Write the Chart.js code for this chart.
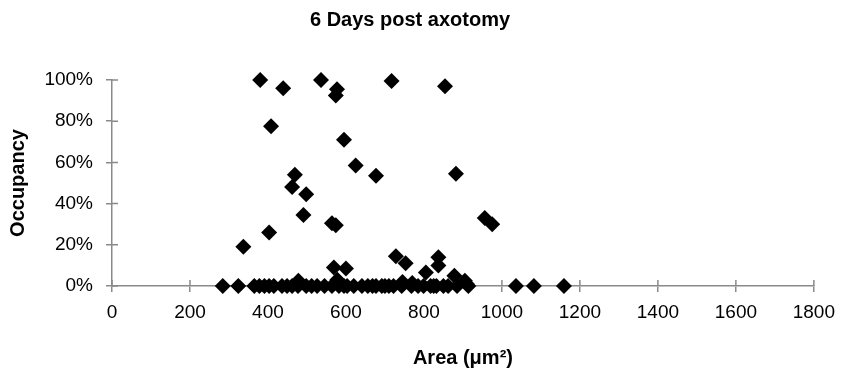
<!DOCTYPE html>
<html>
<head>
<meta charset="utf-8">
<script src="https://cdn.jsdelivr.net/npm/chart.js@4/dist/chart.umd.min.js"></script>
<style>
  html, body { margin: 0; padding: 0; background: #fff; }
  #wrap { width: 844px; height: 378px; }
</style>
</head>
<body>
<div id="wrap"><canvas id="c"></canvas></div>
<script>
// ── Data ──
const areaX = [
    380, 439, 536, 577, 574, 717, 854,
    408, 595, 625, 677, 469, 462, 498, 882,
    491, 564, 574, 403, 337, 956, 975,
    569, 600, 728, 753, 837, 837, 805, 878, 905, 478, 578, 745, 770, 910,
    284, 324, 365, 378, 391, 403, 415, 436, 449, 462, 477, 498, 512, 526, 545,
    564, 582, 595, 603, 620, 641, 656, 668, 677, 692, 700, 710, 722, 743, 768,
    785, 799, 817, 825, 832, 850, 862, 885, 914, 1036, 1082, 1159
];
const occupancy = [
    100, 96, 100, 95.5, 92.5, 99.5, 97,
    77.5, 71, 58.5, 53.5, 54, 48, 44.5, 54.5,
    34.5, 30.5, 29.5, 26, 19, 33, 30,
    9, 8.5, 14.5, 11, 14, 10, 6.5, 5, 2.5, 2.5, 3, 2, 1.5, 1,
    0, 0, 0, 0, 0, 0, 0, 0, 0, 0, 0, 0, 0, 0, 0,
    0, 0, 0, 0, 0, 0, 0, 0, 0, 0, 0, 0, 0, 0, 0,
    0, 0, 0, 0, 0, 0, 0, 0, 0, 0, 0, 0
];

const TITLE = '6 Days post axotomy';
const X_TITLE = 'Area (\u03bcm\u00b2)';
const Y_TITLE = 'Occupancy';
const AXIS_COLOR = '#8a8a8a';
const FONT = "'Liberation Sans', Arial, sans-serif";

// ticks in the reference cross the axis line, draw the inner half here
const crossTicks = {
    id: 'crossTicks',
    beforeDatasetsDraw(chart) {
        const { ctx, chartArea: a, scales: { x, y } } = chart;
        ctx.save();
        ctx.strokeStyle = AXIS_COLOR; ctx.lineWidth = 1.5;
        ctx.beginPath();
        x.ticks.forEach(t => { const px = x.getPixelForValue(t.value); ctx.moveTo(px, a.bottom); ctx.lineTo(px, a.bottom - 6); });
        y.ticks.forEach(t => { const py = y.getPixelForValue(t.value); ctx.moveTo(a.left, py); ctx.lineTo(a.left + 6, py); });
        ctx.stroke();
        ctx.restore();
    }
};

new Chart(document.getElementById('c'), {
    type: 'scatter',
    data: {
        datasets: [{
            data: areaX.map((v, i) => ({ x: v, y: occupancy[i] })),
            pointStyle: 'rectRot', pointRadius: 8, pointHoverRadius: 8,
            backgroundColor: '#000', borderColor: '#000', borderWidth: 0,
            clip: false
        }]
    },
    options: {
        responsive: true, maintainAspectRatio: false, animation: false,
        layout: { padding: { left: 0, right: 24, top: 0, bottom: 0 } },
        plugins: {
            legend: { display: false }, tooltip: { enabled: false },
            title: { display: true, text: TITLE, color: '#000', font: { family: FONT, size: 20, weight: 'bold', lineHeight: 1.2 }, padding: { top: 8, bottom: 48 } }
        },
        scales: {
            x: {
                type: 'linear', min: 0, max: 1800,
                afterFit: s => { s.height = 92; },
                ticks: { stepSize: 200, color: '#000', padding: 9, maxRotation: 0, font: { family: FONT, size: 19 }, callback: v => String(v) },
                grid: { drawOnChartArea: false, drawTicks: true, tickLength: 6, color: AXIS_COLOR, lineWidth: 1.5 },
                border: { color: AXIS_COLOR, width: 1.5 },
                title: { display: true, text: X_TITLE, color: '#000', font: { family: FONT, size: 20, weight: 'bold', lineHeight: 1.2 }, padding: { top: 0, bottom: 8 } }
            },
            y: {
                min: 0, max: 100,
                afterFit: s => { s.width = 112; },
                ticks: { stepSize: 20, color: '#000', padding: 13, font: { family: FONT, size: 19 }, callback: v => v + '%' },
                grid: { drawOnChartArea: false, drawTicks: true, tickLength: 6, color: AXIS_COLOR, lineWidth: 1.5 },
                border: { color: AXIS_COLOR, width: 1.5 },
                title: { display: true, text: Y_TITLE, color: '#000', font: { family: FONT, size: 20, weight: 'bold', lineHeight: 1.2 }, padding: { top: 6, bottom: 0 } }
            }
        }
    },
    plugins: [crossTicks]
});
</script>
</body>
</html>
